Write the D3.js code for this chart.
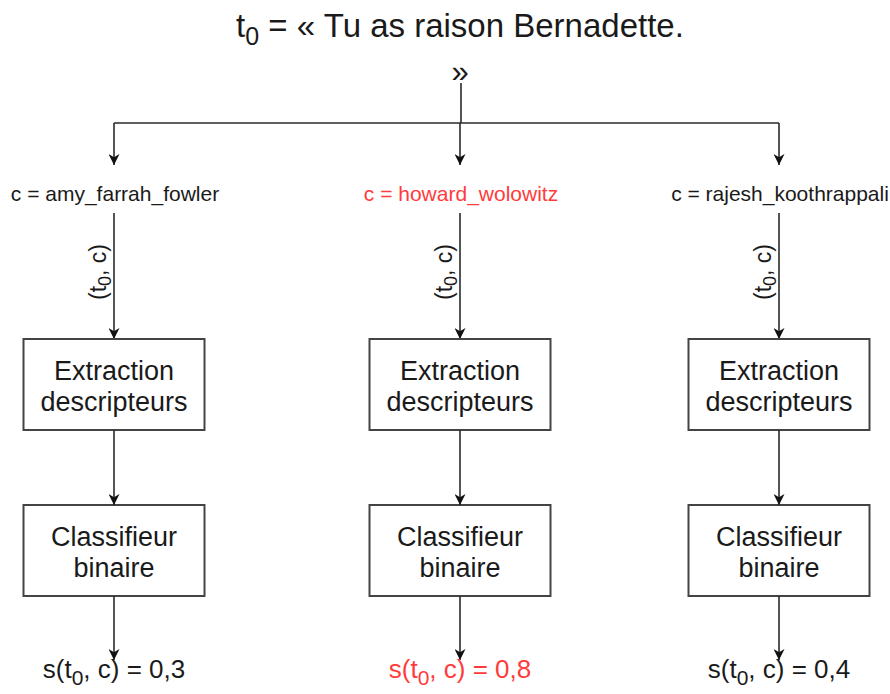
<!DOCTYPE html>
<html><head><meta charset="utf-8">
<script src="https://cdn.jsdelivr.net/npm/d3@7"></script>
<style>body{margin:0;background:#fff}svg{display:block}text{font-family:"Liberation Sans",Arial,sans-serif;fill:#1a1a1a}</style>
</head><body>
<script>
const titleText = "= « Tu as raison Bernadette.";
const candidates = ["amy_farrah_fowler","howard_wolowitz","rajesh_koothrappali"];
const scores = ["0,3","0,8","0,4"];
const highlighted = [false,true,false];
const boxLines = [["Extraction","descripteurs"],["Classifieur","binaire"]];

const W=890,H=694, red="#ff3b3b", ink="#1a1a1a", lineC="#2a2a2a";
const svg=d3.select("body").append("svg").attr("width",W).attr("height",H);
const defs=svg.append("defs");
defs.append("marker").attr("id","ah").attr("viewBox","0 0 10 10").attr("refX",10).attr("refY",5)
  .attr("markerWidth",11).attr("markerHeight",11).attr("markerUnits","userSpaceOnUse").attr("orient","auto")
  .append("path").attr("d","M0,0L10,5L0,10L3,5Z").attr("fill","#111");

const x=d3.scaleOrdinal().domain(candidates).range([114,460,779]);
const y=d3.scaleOrdinal().domain(["title","quote","bar","label","box0","box1","score"]).range([37,80,123,192,339,505,660]);
const boxW=181, boxH=91;

// title
const t=svg.append("text").attr("x",460).attr("y",y("title")).attr("text-anchor","middle").style("font-size","33px");
t.append("tspan").text("t");
t.append("tspan").attr("dy",8).style("font-size","25px").text("0");
t.append("tspan").attr("dy",-8).text(" "+titleText);
svg.append("text").attr("x",460).attr("y",y("title")+45).attr("text-anchor","middle").style("font-size","31px").text("»");

const L=(x1,y1,x2,y2,arrow)=>{const l=svg.append("line").attr("x1",x1).attr("y1",y1).attr("x2",x2).attr("y2",y2)
  .attr("stroke",lineC).attr("stroke-width",1.6); if(arrow) l.attr("marker-end","url(#ah)");};
L(461,y("quote")+3,461,y("bar"));
L(x(candidates[0]),y("bar"),x(candidates[2]),y("bar"));

candidates.forEach((c,i)=>{
  const cx=x(c), col=highlighted[i]?red:ink;
  L(cx,y("bar"),cx,y("label")-27,true);
  svg.append("text").attr("x",cx+1).attr("y",y("label")+9).attr("text-anchor","middle").style("font-size","21px").style("fill",col).text("c = "+c);
  L(cx,y("label")+21,cx,y("box0"),true);
  const r=svg.append("text").attr("transform",`translate(${cx-8},${272}) rotate(-90)`).attr("text-anchor","middle").style("font-size","23px");
  r.append("tspan").text("(t"); r.append("tspan").attr("dy",5).style("font-size","18px").text("0"); r.append("tspan").attr("dy",-5).text(", c)");
  boxLines.forEach((lines,b)=>{
    const by=y("box"+b);
    svg.append("rect").attr("x",cx-boxW/2).attr("y",by).attr("width",boxW).attr("height",boxH).attr("fill","#fff").attr("stroke","#444").attr("stroke-width",2);
    lines.forEach((s,k)=>svg.append("text").attr("x",cx).attr("y",by+41+k*31).attr("text-anchor","middle").style("font-size","27px").text(s));
  });
  L(cx,y("box0")+boxH,cx,y("box1"),true);
  L(cx,y("box1")+boxH,cx,y("score"),true);
  const s=svg.append("text").attr("x",cx).attr("y",y("score")+18).attr("text-anchor","middle").style("font-size","26px").style("fill",col);
  s.append("tspan").style("fill",col).text("s(t"); s.append("tspan").attr("dy",7).style("font-size","21px").style("fill",col).text("0");
  s.append("tspan").attr("dy",-7).style("fill",col).text(", c) = "+scores[i]);
});
</script>
</body></html>
